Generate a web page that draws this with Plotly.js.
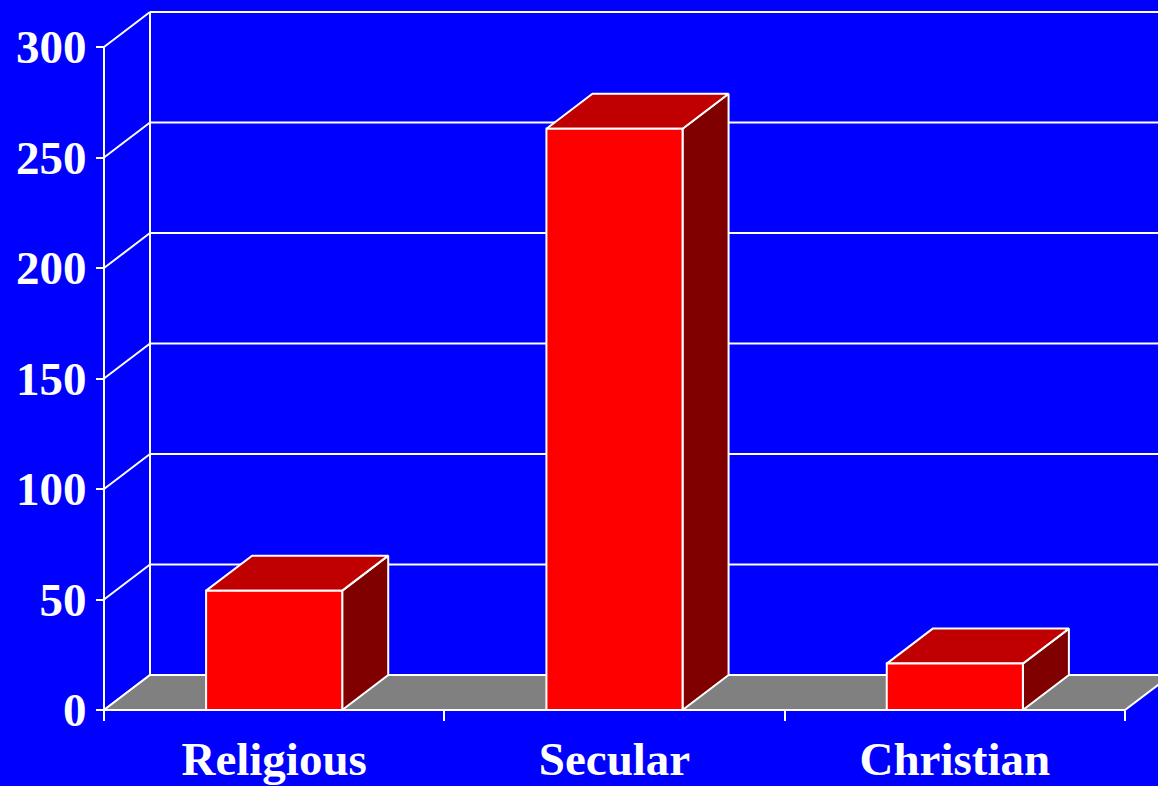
<!DOCTYPE html>
<html>
<head>
<meta charset="utf-8">
<script src="https://cdn.plot.ly/plotly-3.0.1.min.js"></script>
<style>html,body{margin:0;padding:0;background:#0000FF;}#chart{width:1158px;height:786px;}</style>
</head>
<body>
<div id="chart"></div>
<script>
// ---- data ----
const categories = ['Religious', 'Secular', 'Christian'];
const values = [54, 263, 21];
const yTickValues = [0, 50, 100, 150, 200, 250, 300];
const yTickLabels = ['0', '50', '100', '150', '200', '250', '300'];

// ---- pseudo-3D geometry (in axis units) ----
const x0 = -0.5, x1 = categories.length - 0.5;   // front plane extent
const dx = 0.1352, dy = 15.84;                   // depth offset
const halfW = 0.2;                                // half bar width
const xFar = 3.2;                                 // wall extends past right edge
const yMax = 300;

const WHITE = '#FFFFFF';
const traces = [];
const base = {type: 'scatter', mode: 'lines', hoverinfo: 'skip', showlegend: false};

// back wall gridlines
{
  const xs = [], ys = [];
  yTickValues.forEach(v => { xs.push(x0 + dx, xFar, null); ys.push(v + dy, v + dy, null); });
  traces.push(Object.assign({}, base, {x: xs, y: ys, line: {color: WHITE, width: 2}}));
}
// back wall left edge
traces.push(Object.assign({}, base, {x: [x0 + dx, x0 + dx], y: [dy, yMax + dy], line: {color: WHITE, width: 2}}));
// left wall diagonals
{
  const xs = [], ys = [];
  yTickValues.forEach(v => { xs.push(x0, x0 + dx, null); ys.push(v, v + dy, null); });
  traces.push(Object.assign({}, base, {x: xs, y: ys, line: {color: WHITE, width: 2}}));
}
// front y axis line
traces.push(Object.assign({}, base, {x: [x0, x0], y: [0, yMax], line: {color: WHITE, width: 2}}));
// floor
traces.push(Object.assign({}, base, {
  x: [x0, x1, x1 + dx, x0 + dx, x0], y: [0, 0, dy, dy, 0],
  fill: 'toself', fillcolor: '#808080', line: {color: WHITE, width: 2}
}));
// bars
categories.forEach((c, i) => {
  const v = values[i];
  const l = i - halfW, r = i + halfW;
  // side
  traces.push(Object.assign({}, base, {
    x: [r, r + dx, r + dx, r, r], y: [0, dy, v + dy, v, 0],
    fill: 'toself', fillcolor: '#800000', line: {color: WHITE, width: 2}
  }));
  // top
  traces.push(Object.assign({}, base, {
    x: [l, r, r + dx, l + dx, l], y: [v, v, v + dy, v + dy, v],
    fill: 'toself', fillcolor: '#C00000', line: {color: WHITE, width: 2}
  }));
  // front
  traces.push(Object.assign({}, base, {
    x: [l, r, r, l, l], y: [0, 0, v, v, 0],
    fill: 'toself', fillcolor: '#FF0000', line: {color: WHITE, width: 2}
  }));
});

const labelFont = {family: '"Liberation Serif", "Times New Roman", serif', size: 47, color: WHITE, weight: 'bold'};

const layout = {
  width: 1158, height: 786,
  paper_bgcolor: '#0000FF', plot_bgcolor: '#0000FF',
  margin: {l: 90, r: 0, t: 8, b: 64},
  showlegend: false,
  xaxis: {
    range: [-0.5411, 2.5970], showgrid: false, zeroline: false, showline: false,
    anchor: 'free', position: 12 / 714,
    tickmode: 'array', tickvals: [-0.5, 0.5, 1.5, 2.5], ticktext: ['', '', '', ''],
    ticks: 'outside', ticklen: 10, tickwidth: 2, tickcolor: WHITE, fixedrange: true
  },
  xaxis2: {
    overlaying: 'x', range: [-0.5411, 2.5970], showgrid: false, zeroline: false, showline: false,
    anchor: 'free', position: 12 / 714, side: 'bottom',
    tickmode: 'array', tickvals: categories.map((c, i) => i), ticktext: categories,
    ticks: '', tickfont: labelFont, ticklabelstandoff: 17, fixedrange: true
  },
  yaxis: {
    range: [-5.430, 317.65], showgrid: false, zeroline: false, showline: false,
    anchor: 'free', position: 14 / 1068,
    tickmode: 'array', tickvals: yTickValues, ticktext: yTickLabels,
    ticks: 'outside', ticklen: 8, tickwidth: 2, tickcolor: WHITE,
    tickfont: labelFont, fixedrange: true
  }
};

// invisible trace so xaxis2 is drawn
traces.push({type: 'scatter', x: [0], y: [0], xaxis: 'x2', mode: 'markers', marker: {opacity: 0}, hoverinfo: 'skip', showlegend: false});

Plotly.newPlot('chart', traces, layout, {displayModeBar: false, staticPlot: true});
</script>
</body>
</html>
